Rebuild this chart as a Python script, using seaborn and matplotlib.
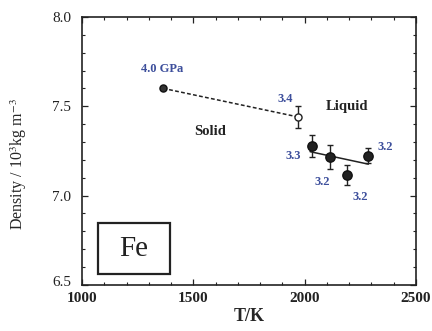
import matplotlib
matplotlib.use("Agg")
import matplotlib.pyplot as plt
import matplotlib.transforms as mtransforms
from matplotlib.patches import Rectangle
import seaborn as sns
from matplotlib.ticker import MultipleLocator

sns.set_theme(style="ticks")
plt.rcParams['font.family'] = ['Liberation Serif', 'DejaVu Serif']
plt.rcParams['mathtext.fontset'] = 'stix'

# data
solid_T = [1364]
solid_D = [7.60]
open_T = [1971]
open_D = [7.44]
open_err = [0.062]
liq_T = [2031, 2114, 2188, 2283]
liq_D = [7.278, 7.218, 7.116, 7.224]
liq_err = [0.060, 0.068, 0.058, 0.040]
dash_T = [1364, 1971]
dash_D = [7.60, 7.44]
fit_T = [2024, 2286]
fit_D = [7.246, 7.176]
press_labels = ["4.0 GPa", "3.4", "3.3", "3.2", "3.2", "3.2"]
press_T = [1358, 1911, 1949, 2081, 2248, 2361]
press_D = [7.71, 7.54, 7.224, 7.078, 6.99, 7.27]
x_ticks = [1000, 1500, 2000, 2500]
y_ticks = [6.5, 7.0, 7.5, 8.0]

fig = plt.figure(figsize=(4.32, 3.31), dpi=100)
ax = fig.add_axes([0.190, 0.139, 0.773, 0.810])

sns.lineplot(x=dash_T, y=dash_D, ax=ax, color="#222222", lw=1.1, linestyle=(0, (2.5, 1.5)))
sns.lineplot(x=fit_T, y=fit_D, ax=ax, color="#222222", lw=1.1)

ax.errorbar(open_T, open_D, yerr=open_err, fmt='none', ecolor="#222222", capsize=2.5, lw=1)
ax.errorbar(liq_T, liq_D, yerr=liq_err, fmt='none', ecolor="#222222", capsize=2.5, lw=1)

sns.scatterplot(x=solid_T, y=solid_D, ax=ax, s=26, color="#333333", edgecolor="#111111", linewidth=1, zorder=5)
sns.scatterplot(x=open_T, y=open_D, ax=ax, s=26, facecolor="white", edgecolor="#222222", linewidth=1, zorder=5)
sns.scatterplot(x=liq_T, y=liq_D, ax=ax, s=45, color="#222222", edgecolor="#111111", linewidth=1, zorder=5)

blue = "#3d4f9c"
for lab, t, d in zip(press_labels, press_T, press_D):
    ax.text(t, d, lab, color=blue, fontsize=9, fontweight="bold", ha="center", va="center")

ax.text(2191, 7.50, "Liquid", fontsize=10.5, fontweight="bold", ha="center", va="center", color="#222222")
ax.text(1575, 7.36, "Solid", fontsize=10.5, fontweight="bold", ha="center", va="center", color="#222222")

ax.add_patch(Rectangle((1072, 6.562), 323, 0.285, fill=False, ec="#222222", lw=1.6, zorder=4))
ax.text(1233, 6.70, "Fe", fontsize=21, ha="center", va="center", color="#222222")

ax.set_xlim(1000, 2500)
ax.set_ylim(6.5, 8.0)
ax.xaxis.set_minor_locator(MultipleLocator(100))
ax.yaxis.set_minor_locator(MultipleLocator(0.1))
ax.tick_params(which="both", direction="in", top=True, right=True, colors="#222222")
ax.tick_params(which="major", length=4, width=0.9)
ax.tick_params(which="minor", length=2.5, width=0.8)
ax.tick_params(axis="y", pad=8, labelsize=11)
ax.tick_params(axis="x", pad=5, labelsize=11)
ax.set_xticks(x_ticks)
ax.set_xticklabels([str(v) for v in x_ticks], fontweight="bold")
ax.set_yticks(y_ticks)
ax.set_yticklabels([f"{v:.1f}" for v in y_ticks])
fig.canvas.draw()
lab0 = ax.get_yticklabels()[0]
lab0.set_transform(lab0.get_transform() + mtransforms.ScaledTranslation(0, 3/72, fig.dpi_scale_trans))
for s in ax.spines.values():
    s.set_linewidth(1.2)
    s.set_color("#222222")

ax.set_xlabel("T/K", fontsize=13, fontweight="bold", labelpad=2)
ax.set_ylabel("Density / 10$^3$kg m$^{-3}$", fontsize=11.5)
ax.yaxis.set_label_coords(-0.16, 0.45)

fig.savefig("out.png", dpi=100)
